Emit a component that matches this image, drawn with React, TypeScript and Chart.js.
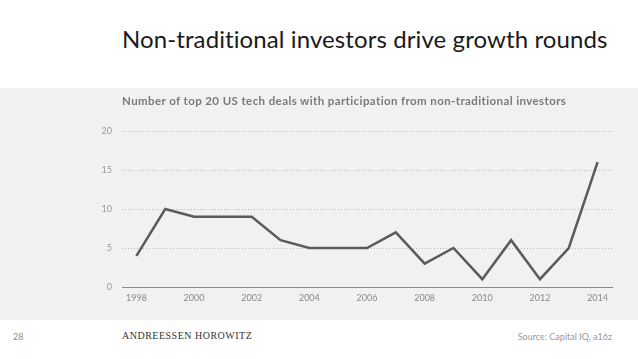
import React, { useEffect, useRef } from "react";
import { Chart, registerables } from "chart.js";

Chart.register(...registerables);

const years = ["1998","1999","2000","2001","2002","2003","2004","2005","2006","2007","2008","2009","2010","2011","2012","2013","2014"];
const deals = [4, 10, 9, 9, 9, 6, 5, 5, 5, 7, 3, 5, 1, 6, 1, 5, 16];
const yTicks = [0, 5, 10, 15, 20];

const FONT = "Lato, 'Open Sans', sans-serif";

export default function App() {
  const ref = useRef<HTMLCanvasElement | null>(null);
  useEffect(() => {
    if (!ref.current) return;
    const chart = new Chart(ref.current, {
      type: "line",
      data: {
        labels: years,
        datasets: [
          {
            data: deals,
            borderColor: "#5b5b5b",
            borderWidth: 2.5,
            pointRadius: 0,
            tension: 0,
            fill: false,
          },
        ],
      },
      options: {
        animation: false,
        responsive: false,
        maintainAspectRatio: false,
        layout: { padding: { top: 43, right: 26, left: 0, bottom: 0 } },
        plugins: { legend: { display: false }, tooltip: { enabled: false } },
        scales: {
          x: {
            type: "category",
            offset: true,
            grid: { display: false, drawTicks: false },
            border: { display: true, color: "#8a8a8a", width: 1 },
            ticks: {
              autoSkip: false,
              maxRotation: 0,
              padding: 6,
              color: "#8a8a8a",
              font: { family: FONT, size: 9 },
              callback: (_v: any, i: number) => (Number(years[i]) % 2 === 0 ? years[i] : ""),
            },
            afterFit: (s: any) => { s.height = 33; },
          },
          y: {
            min: 0,
            max: 20,
            afterBuildTicks: (s: any) => { s.ticks = yTicks.map((v) => ({ value: v })); },
            grid: { color: "#b8b8b8", lineWidth: 1, drawTicks: false },
            border: { display: false, dash: [1, 2] },
            ticks: {
              padding: 10,
              color: "#9a9a9a",
              font: { family: FONT, size: 9 },
            },
            afterFit: (s: any) => { s.width = 122; },
          },
        },
      },
    });
    return () => chart.destroy();
  }, []);

  return (
    <div style={{ position: "fixed", left: 0, top: 0, width: 638, height: 359, background: "#ffffff", overflow: "hidden", fontFamily: FONT }}>
      <div style={{ position: "absolute", left: 122, top: 24, fontSize: 24, fontWeight: 400, color: "#1a1a1a", letterSpacing: 0.1, whiteSpace: "nowrap" }}>
        Non-traditional investors drive growth rounds
      </div>
      <div style={{ position: "absolute", left: 0, top: 88, width: 638, height: 232, background: "#f1f1f1" }}>
        <canvas ref={ref} width={638} height={232} style={{ position: "absolute", left: 0, top: 0 }} />
        <div style={{ position: "absolute", left: 122, top: 6, fontSize: 11.5, fontWeight: 700, color: "#7a7a7a", letterSpacing: 0.4, whiteSpace: "nowrap" }}>
          Number of top 20 US tech deals with participation from non-traditional investors
        </div>
      </div>
      <div style={{ position: "absolute", left: 13, top: 331, fontSize: 9, color: "#8a8a8a" }}>28</div>
      <div style={{ position: "absolute", left: 122, top: 330, fontSize: 10, color: "#333", fontFamily: "'Liberation Serif', 'DejaVu Serif', serif", letterSpacing: 0.5, whiteSpace: "nowrap" }}>
        ANDREESSEN HOROWITZ
      </div>
      <div style={{ position: "absolute", right: 26, top: 331, fontSize: 9, color: "#999", whiteSpace: "nowrap" }}>
        Source: Capital IQ, a16z
      </div>
    </div>
  );
}
